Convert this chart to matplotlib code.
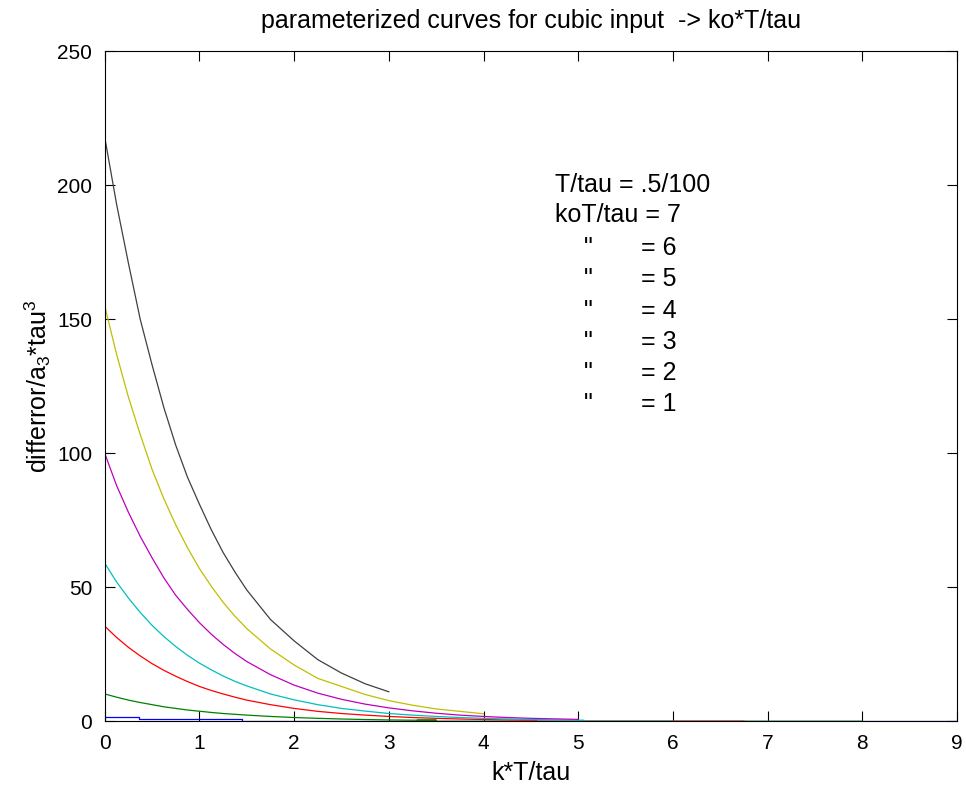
import numpy as np
import matplotlib
matplotlib.use("Agg")
import matplotlib.pyplot as plt

plt.rcParams['font.family'] = ['Liberation Sans', 'DejaVu Sans']
plt.rcParams['mathtext.default'] = 'regular'

# x positions: fine steps first, then 0.25
xs = [0, .125, .25, .375, .5, .625, .75, .875, 1, 1.125, 1.25, 1.375, 1.5,
      1.75, 2, 2.25, 2.5, 2.75, 3, 3.25, 3.5, 3.75, 4, 4.25, 4.5, 4.75, 5]

# values
black = [218, 193, 171, 150, 133, 117, 103, 91, 81, 71.5, 63, 55.7, 49,
         38, 30, 23, 18, 14, 11]
yellow = [155, 137, 121, 107, 94, 83, 73.3, 64.7, 57, 50.4, 44.4, 39.2, 34.6,
          27, 21, 16, 13, 10, 7.7, 6, 4.6, 3.7, 2.8]
magenta = [100, 88, 78, 69, 61, 53.5, 47, 41.7, 36.8, 32.5, 28.7, 25.3, 22.3,
           17.4, 13.5, 10.5, 8.2, 6.4, 5, 3.9, 3, 2.3, 1.8, 1.4, 1.1, 0.9, 0.7]
cyan = [59, 52, 46, 40.6, 35.8, 31.6, 27.9, 24.6, 21.7, 19.2, 16.9, 14.9, 13.2,
        10.2, 8, 6.2, 4.8, 3.8, 2.9, 2.3, 1.8, 1.4, 1.1, 0.85, 0.65, 0.5, 0.4]
red = [35.5, 31.3, 27.6, 24.4, 21.5, 19, 16.8, 14.8, 13, 11.5, 10.2, 9, 7.9,
       6.2, 4.8, 3.7, 2.9, 2.3, 1.8, 1.4, 1.1, 0.85, 0.65, 0.5, 0.4]
green = [10.2, 9, 7.9, 7, 6.2, 5.4, 4.8, 4.2, 3.75, 3.3, 2.9, 2.6, 2.3,
         1.8, 1.4, 1.1, 0.85, 0.65, 0.5, 0.4, 0.4]
# where each curve drops to zero, and where it ends
zero_at = {'cyan': 5.06, 'red': 4.56, 'green': 3.3}
end_at = {'cyan': 6.0, 'red': 6.75, 'green': 8.0}
blue_x = [0, 0.36, 0.36, 1.45, 1.45, 9]
blue_y = [1.5, 1.5, 0.75, 0.75, 0, 0]

labels_y = [200.1, 188.9, 176.6, 165.0, 153.2, 141.7, 129.9, 118.3]
ko = [6, 5, 4, 3, 2, 1]


def curve(vals, name=None):
    x = xs[:len(vals)]
    y = list(vals)
    if name is not None:
        z = zero_at[name]
        x = x + [z, z, end_at[name]]
        y += [y[-1], 0, 0]
    return x, y


fig = plt.figure(figsize=(9.66, 7.92), dpi=100)
ax = fig.add_axes([0.1084, 0.0893, 0.8823, 0.8459])
lw = 0.9
ax.plot(blue_x, blue_y, color='#0000ff', lw=lw)
ax.plot(*curve(green, 'green'), color='#008000', lw=lw)
ax.plot(*curve(red, 'red'), color='#ff0000', lw=lw)
ax.plot(*curve(cyan, 'cyan'), color='#00bfbf', lw=lw)
ax.plot(*curve(magenta), color='#bf00bf', lw=lw)
ax.plot(*curve(yellow), color='#bfbf00', lw=lw)
ax.plot(*curve(black), color='#404040', lw=lw)

ax.set_xlim(0, 9)
ax.set_ylim(0, 250)
ax.set_xticks(range(0, 10))
ax.set_yticks(range(0, 251, 50))
ax.tick_params(direction='in', length=7, top=True, right=True, labelsize=15, pad=9)

fs = 18
ax.text(4.75, labels_y[0], 'T/tau = .5/100', fontsize=fs, va='center')
ax.text(4.75, labels_y[1], 'koT/tau = 7', fontsize=fs, va='center')
for i in range(len(ko)):
    ax.text(5.06, labels_y[i + 2], '"', fontsize=fs, va='center')
    ax.text(5.66, labels_y[i + 2], '= ' + str(ko[i]), fontsize=fs, va='center')

ax.set_title('parameterized curves for cubic input  -> ko*T/tau', fontsize=18, pad=17)
ax.set_xlabel('k*T/tau', fontsize=18, labelpad=6)
ax.set_ylabel('differror/a$_3$*tau$^3$', fontsize=18, labelpad=3)

plt.savefig('out.png')
